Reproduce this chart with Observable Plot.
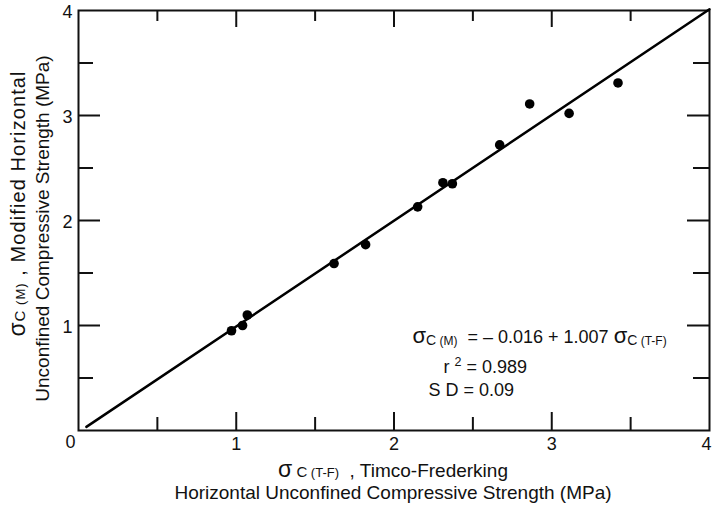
<!DOCTYPE html>
<html>
<head>
<meta charset="utf-8">
<script src="https://cdn.jsdelivr.net/npm/d3@7"></script>
<script src="https://cdn.jsdelivr.net/npm/@observablehq/plot@0.6"></script>
<style>
  html, body { margin: 0; padding: 0; background: #fff; }
  svg text { white-space: pre; }
</style>
</head>
<body>
<div id="chart"></div>
<script>
// ---- data ----
const xTF = [0.97, 1.04, 1.07, 1.62, 1.82, 2.15, 2.31, 2.37, 2.67, 2.86, 3.11, 3.42];
const yM  = [0.95, 1.00, 1.10, 1.59, 1.77, 2.13, 2.36, 2.35, 2.72, 3.11, 3.02, 3.31];
const fitIntercept = -0.016;
const fitSlope = 1.007;
const fitXs = [0.05, 4];
const rSquared = "0.989";
const stdDev = "0.09";
const xTickLabels = [1, 2, 3];
const xEndLabel = [4];
const yTickLabels = [1, 2, 3, 4];
const majorTicks = [1, 2, 3];
const minorTicks = [0.5, 1.5, 2.5, 3.5];
const annotX = [2.117, 2.314, 2.219];
const annotY = [0.838, 0.552, 0.333];

// ---- derived tables ----
const points = xTF.map((x, i) => ({x, y: yM[i]}));
const fitLine = fitXs.map(x => ({x, y: fitIntercept + fitSlope * x}));

const W = 713, H = 510, mL = 78, mR = 4, mT = 10, mB = 80;
const fw = W - mL - mR, fh = H - mT - mB;
const F = "'Liberation Sans', Arial, Helvetica, sans-serif";
const ink = "#111";

const plot = Plot.plot({
  width: W, height: H,
  marginLeft: mL, marginRight: mR, marginTop: mT, marginBottom: mB,
  style: {fontFamily: F, background: "#fff", color: ink, overflow: "visible"},
  x: {domain: [0, 4]},
  y: {domain: [0, 4]},
  marks: [
    Plot.frame({stroke: ink, strokeWidth: 2}),
    // inward ticks
    Plot.tickX(majorTicks, {x: d => d, insetTop: fh - 18, stroke: ink, strokeWidth: 2}),
    Plot.tickX(majorTicks, {x: d => d, insetBottom: fh - 17, stroke: ink, strokeWidth: 2}),
    Plot.tickX(minorTicks, {x: d => d, insetTop: fh - 13, stroke: ink, strokeWidth: 2}),
    Plot.tickX(minorTicks, {x: d => d, insetBottom: fh - 11, stroke: ink, strokeWidth: 2}),
    Plot.tickY(majorTicks, {y: d => d, insetRight: fw - 22, stroke: ink, strokeWidth: 2}),
    Plot.tickY(minorTicks, {y: d => d, insetRight: fw - 15, stroke: ink, strokeWidth: 2}),
    Plot.tickY(majorTicks, {y: d => d, insetLeft: fw - 22, stroke: ink, strokeWidth: 2}),
    Plot.tickY(minorTicks, {y: d => d, insetLeft: fw - 16, stroke: ink, strokeWidth: 2}),
    // tick labels
    Plot.axisX(xTickLabels, {tickSize: 0, tickPadding: 7, fontSize: 18, label: null, fill: ink, tickFormat: d => String(d)}),
    Plot.text(xEndLabel, {x: d => d, y: () => 0, text: d => String(d), dx: -3, dy: 7, lineAnchor: "top", fontSize: 18, fill: ink}),
    Plot.axisY(yTickLabels, {tickSize: 0, tickPadding: 6, fontSize: 18, label: null, dy: 2, fill: ink, tickFormat: d => String(d)}),
    Plot.text(["0"], {x: () => 0, y: () => 0, text: d => d, dx: -8, dy: 12, fontSize: 18, fill: ink}),
    // regression line and data
    Plot.line(fitLine, {x: "x", y: "y", stroke: "#000", strokeWidth: 2.5}),
    Plot.dot(points, {x: "x", y: "y", r: 4.8, fill: "#000", stroke: null}),
    // annotation lines (rich text filled in after render)
    Plot.text(["@EQ", "@R2", "@SD"], {x: (d, i) => annotX[i], y: (d, i) => annotY[i], text: d => d,
      textAnchor: "start", lineAnchor: "bottom", fontSize: 18, fill: ink}),
    // axis titles
    Plot.text(["@XL1"], {frameAnchor: "bottom", text: d => d, dy: 46, dx: -1, lineAnchor: "bottom", textAnchor: "middle", fontSize: 19, fill: ink}),
    Plot.text(["@XL2"], {frameAnchor: "bottom", text: d => d, dy: 68, dx: -1, lineAnchor: "bottom", textAnchor: "middle", fontSize: 19, fill: ink}),
    Plot.text(["@YL1"], {frameAnchor: "left", text: d => d, rotate: -90, dx: -54, dy: -17, lineAnchor: "bottom", textAnchor: "middle", fontSize: 19, fill: ink}),
    Plot.text(["@YL2"], {frameAnchor: "left", text: d => d, rotate: -90, dx: -30, dy: 8, lineAnchor: "bottom", textAnchor: "middle", fontSize: 19, fill: ink})
  ]
});

document.getElementById("chart").appendChild(plot);

// rich text segments: [text, fontSize, baseline offset, letter spacing]
const rich = {
  "@EQ": [["σ", 22], ["C", 14, 2], [" (M)", 12, 2], ["  = – 0.016 + 1.007 ", 18, 0], ["σ", 22, 0], ["C", 14, 2], [" (T-F)", 12, 2]],
  "@R2": [["r ", 18, 0], ["2", 12.5, -7], [" = " + rSquared, 18, 0]],
  "@SD": [["S D = " + stdDev, 18, 0]],
  "@XL1": [["σ", 23, 0], [" C", 15, 0], [" (T-F)", 13, 0], ["  , Timco-Frederking", 19, 0]],
  "@XL2": [["Horizontal Unconfined Compressive Strength (MPa)", 19, 0]],
  "@YL1": [["σ", 23, 0, 1], ["C", 15, 0, 1], [" (M)", 13, 0, 1], [" , Modified Horizontal", 20, 0, 1.1]],
  "@YL2": [["Unconfined Compressive Strength (MPa)", 19, 0]]
};
const NS = "http://www.w3.org/2000/svg";
plot.querySelectorAll("text").forEach(el => {
  const key = el.textContent;
  if (!rich[key]) return;
  el.removeAttribute("dy");
  el.textContent = "";
  let cur = 0;
  for (const [s, size, off = 0, ls = 0] of rich[key]) {
    const t = document.createElementNS(NS, "tspan");
    t.setAttribute("font-size", size);
    t.setAttribute("dy", off - cur);
    if (ls) t.setAttribute("letter-spacing", ls);
    cur = off;
    t.textContent = s;
    el.appendChild(t);
  }
});
</script>
</body>
</html>
